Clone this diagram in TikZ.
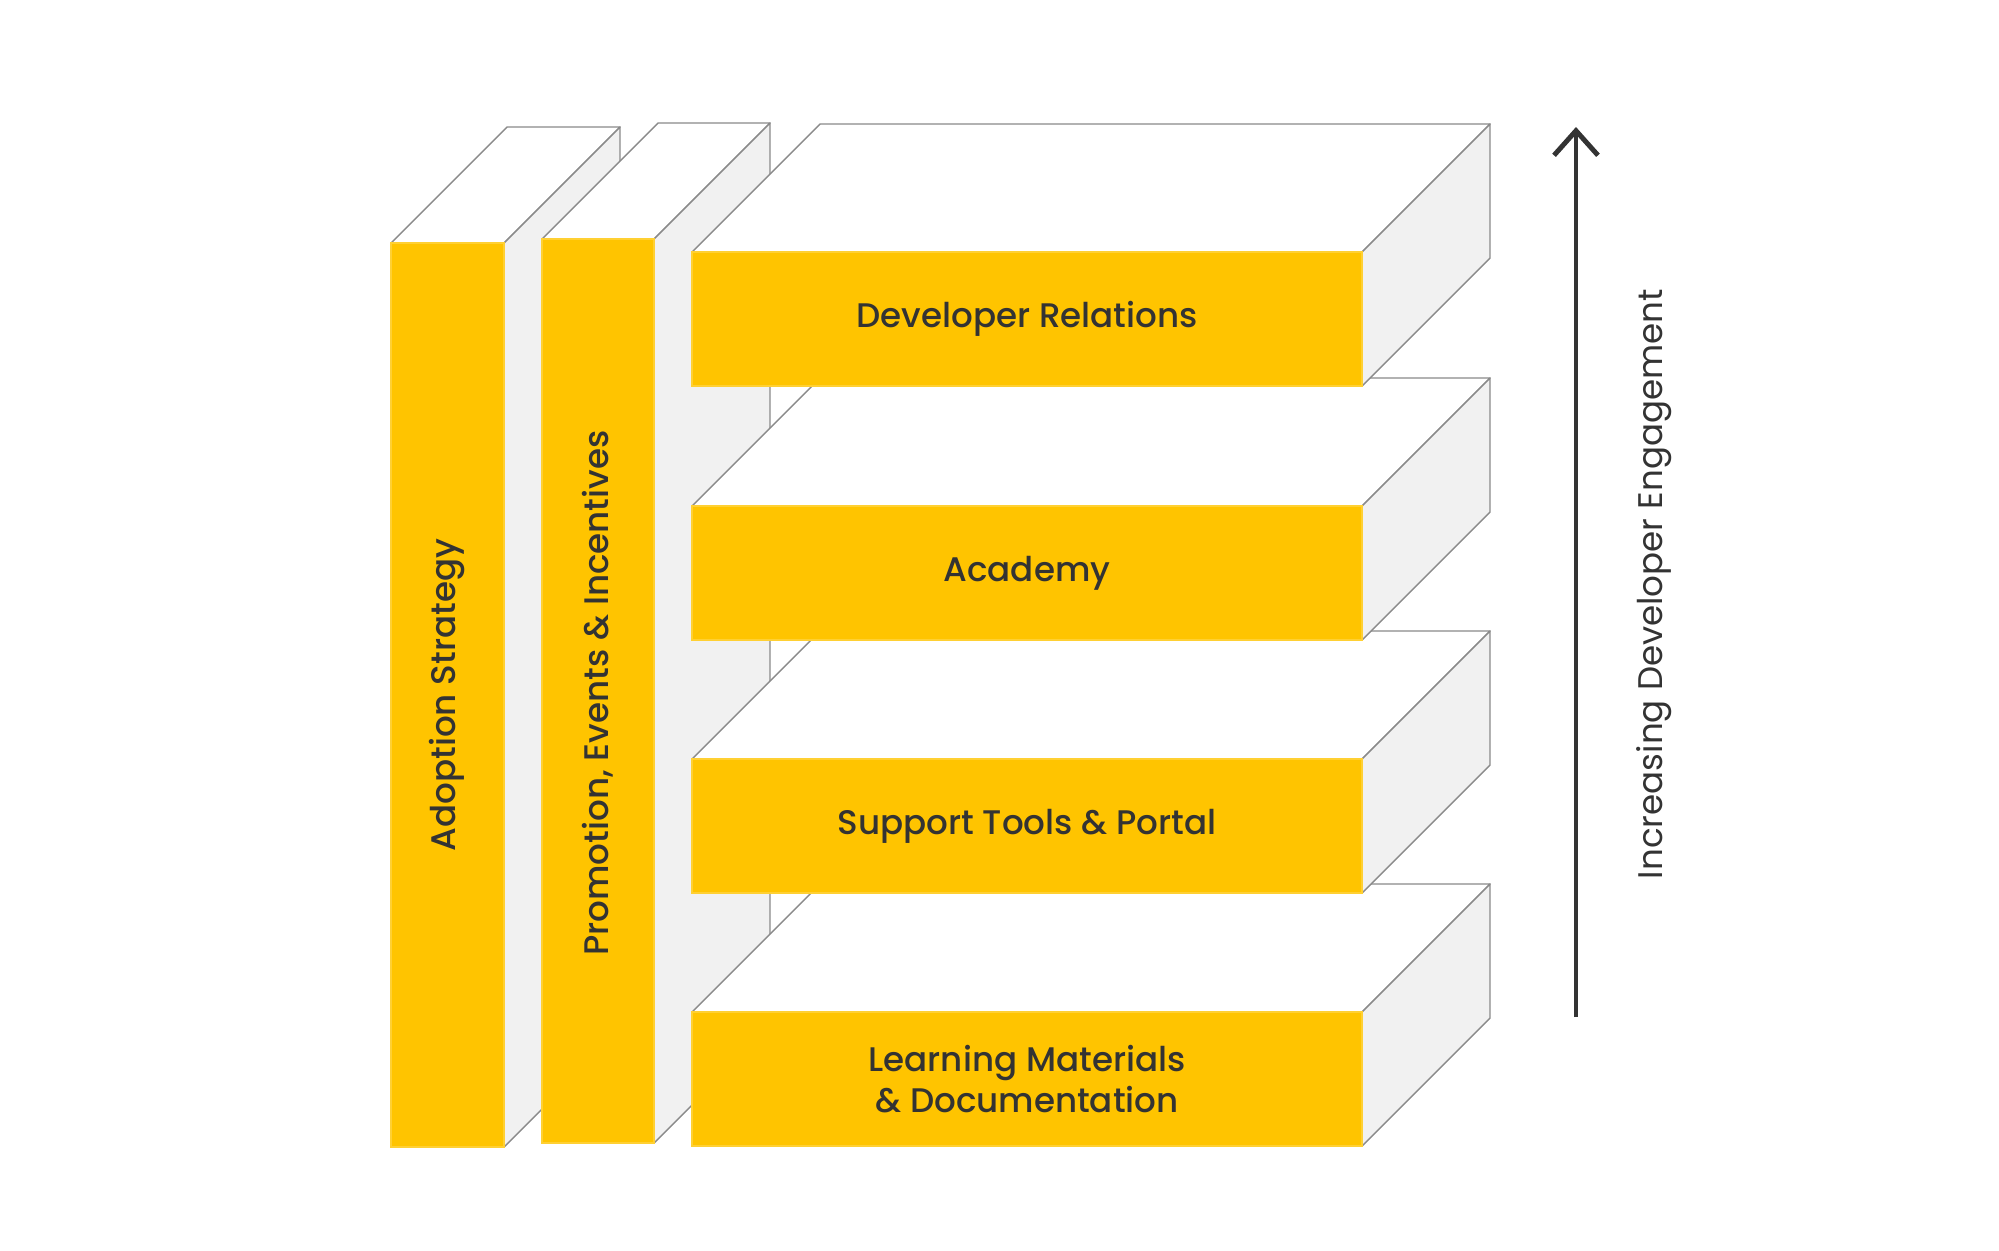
\documentclass[tikz,border=0pt]{standalone}
\usepackage{fontspec}
\setmainfont{Poppins}[BoldFont={Poppins Medium}]
\usepackage{xcolor}
\usetikzlibrary{arrows.meta}

\definecolor{slabyellow}{HTML}{FFC400}
\definecolor{sidegrey}{HTML}{F1F1F1}
\definecolor{edgegrey}{HTML}{8A8A8A}
\definecolor{inkgrey}{HTML}{333333}

\tikzset{
  topface/.style={fill=white,draw=edgegrey,line width=0.4pt,line join=round},
  sideface/.style={fill=sidegrey,draw=edgegrey,line width=0.4pt,line join=round},
  frontface/.style={fill=slabyellow,draw=slabyellow!80!white,line width=0.3pt},
  label/.style={text=inkgrey,font=\fontsize{9.7}{11.8}\selectfont\bfseries,align=center}
}

\begin{document}
\begin{tikzpicture}[x=0.01cm,y=-0.01cm]
    \useasboundingbox[fill=white] (0,0) rectangle (1999,1250);

    % Adoption column (back)
    \draw[topface] (391,243) -- (507,127) -- (620,127) -- (504,243) -- cycle;
    \draw[sideface] (504,243) -- (620,127) -- (620,1031) -- (504,1147) -- cycle;
    \fill[frontface] (391,243) rectangle (504,1147);
    \node[label,rotate=90] (adopt) at (447.5,695) {Adoption Strategy};

    % Promotion column
    \draw[topface] (542,239) -- (658,123) -- (770,123) -- (654,239) -- cycle;
    \draw[sideface] (654,239) -- (770,123) -- (770,1027) -- (654,1143) -- cycle;
    \fill[frontface] (542,239) rectangle (654,1143);
    \node[label,rotate=90] (promo) at (598,693) {Promotion, Events \& Incentives};

    % Slabs, bottom one first so the upper ones cover it
    \foreach \yt/\name/\txt in {1012/learn/{Learning Materials\\\& Documentation},
                                759/support/{Support Tools \& Portal},
                                506/academy/{Academy},
                                252/devrel/{Developer Relations}}{
        \draw[topface] (692,\yt) -- (820,\yt-128) -- (1490,\yt-128) -- (1362,\yt) -- cycle;
        \draw[sideface] (1362,\yt) -- (1490,\yt-128) -- (1490,\yt+6) -- (1362,\yt+134) -- cycle;
        \fill[frontface] (692,\yt) rectangle (1362,\yt+134);
        \node[label] (\name) at (1027,\yt+67) {\txt};
    }

    % Engagement arrow
    \coordinate (low) at (1576,1017);
    \coordinate (high) at (1576,127);
    \draw[inkgrey,line width=1.4pt,-{Straight Barb[length=7pt,width=12.5pt]}] (low) -- (high);
    \node[label,rotate=90,font=\fontsize{9.7}{11.8}\selectfont\mdseries] (engage) at (1654,584) {Increasing Developer Engagement};
\end{tikzpicture}
\end{document}
